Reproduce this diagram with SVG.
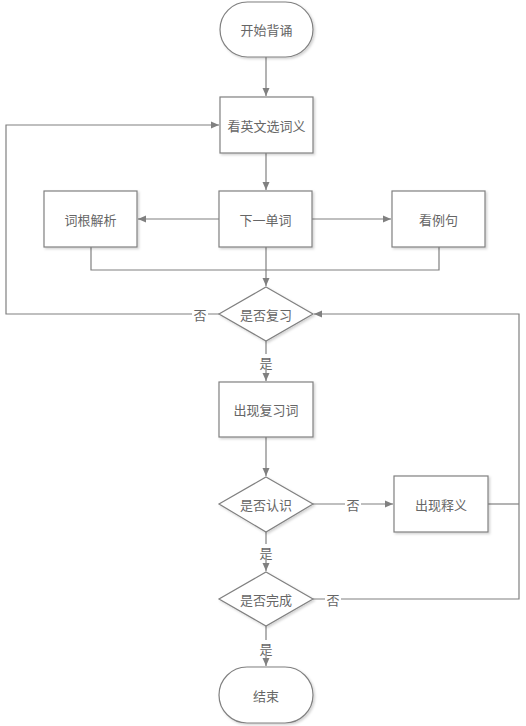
<svg xmlns="http://www.w3.org/2000/svg" width="526" height="726" viewBox="0 0 526 726">
<defs>
<marker id="arr" markerWidth="10" markerHeight="10" refX="9" refY="5" orient="auto" markerUnits="userSpaceOnUse">
<path d="M1,1.5 L9,5 L1,8.5 Z" fill="#808080"/>
</marker>
<filter id="sh" x="-10%" y="-10%" width="130%" height="130%">
<feDropShadow dx="1.5" dy="1.5" stdDeviation="1" flood-color="#000" flood-opacity="0.18"/>
</filter>
</defs>
<style>
.n{fill:#fff;stroke:#808080;stroke-width:1.2;filter:url(#sh)}
.t{font-family:"Noto Sans CJK SC","Liberation Sans",sans-serif;font-size:13px;fill:#666;text-anchor:middle;dominant-baseline:central}
.c{fill:none;stroke:#808080;stroke-width:1.2}
.a{marker-end:url(#arr)}
.lb{fill:#fff}
</style>
<rect width="526" height="726" fill="#fff"/>
<g id="connectors">
<path class="c a" d="M266,57 V96"/>
<path class="c a" d="M266,153 V190"/>
<path class="c a" d="M219,219 H138"/>
<path class="c a" d="M312,219 H391"/>
<path class="c" d="M91,247 V270 H439 V247"/>
<path class="c a" d="M266,247 V286"/>
<path class="c a" d="M219,314 H6 V125 H219"/>
<path class="c a" d="M266,341 V381"/>
<path class="c a" d="M266,437 V476"/>
<path class="c a" d="M313,504 H393"/>
<path class="c" d="M488,504 H519"/>
<path class="c a" d="M266,532 V571"/>
<path class="c a" d="M313,599 H519 V314 H314"/>
<path class="c a" d="M266,626 V666"/>
<rect class="lb" x="192" y="306" width="16" height="16"/>
<text class="t" x="200" y="314">否</text>
<rect class="lb" x="258" y="354" width="16" height="16"/>
<text class="t" x="266" y="362">是</text>
<rect class="lb" x="345" y="496" width="16" height="16"/>
<text class="t" x="353" y="504">否</text>
<rect class="lb" x="258" y="544" width="16" height="16"/>
<text class="t" x="266" y="552">是</text>
<rect class="lb" x="325" y="591" width="16" height="16"/>
<text class="t" x="333" y="599">否</text>
<rect class="lb" x="258" y="640" width="16" height="16"/>
<text class="t" x="266" y="648">是</text>
</g>
<g id="start"><rect class="n" x="220" y="2" width="93" height="55" rx="27.5"/><text class="t" x="266.5" y="29.5">开始背诵</text></g>
<g id="choose"><rect class="n" x="220" y="97" width="93" height="56"/><text class="t" x="266.5" y="125">看英文选词义</text></g>
<g id="root"><rect class="n" x="44" y="191" width="93" height="56"/><text class="t" x="90.5" y="219">词根解析</text></g>
<g id="next"><rect class="n" x="219" y="191" width="93" height="56"/><text class="t" x="265.5" y="219">下一单词</text></g>
<g id="example"><rect class="n" x="392" y="191" width="93" height="56"/><text class="t" x="438.5" y="219">看例句</text></g>
<g id="review"><path class="n" d="M266,287 L313,314 L266,341 L219,314 Z"/><text class="t" x="266" y="314">是否复习</text></g>
<g id="reviewword"><rect class="n" x="219" y="382" width="94" height="55"/><text class="t" x="266" y="409.5">出现复习词</text></g>
<g id="know"><path class="n" d="M266,477 L313,504 L266,532 L219,504 Z"/><text class="t" x="266" y="504">是否认识</text></g>
<g id="meaning"><rect class="n" x="394" y="476" width="94" height="56"/><text class="t" x="441" y="504">出现释义</text></g>
<g id="done"><path class="n" d="M266,572 L313,599 L266,626 L219,599 Z"/><text class="t" x="266" y="599">是否完成</text></g>
<g id="end"><rect class="n" x="219" y="667" width="94" height="56" rx="28"/><text class="t" x="266" y="695">结束</text></g>
</svg>
